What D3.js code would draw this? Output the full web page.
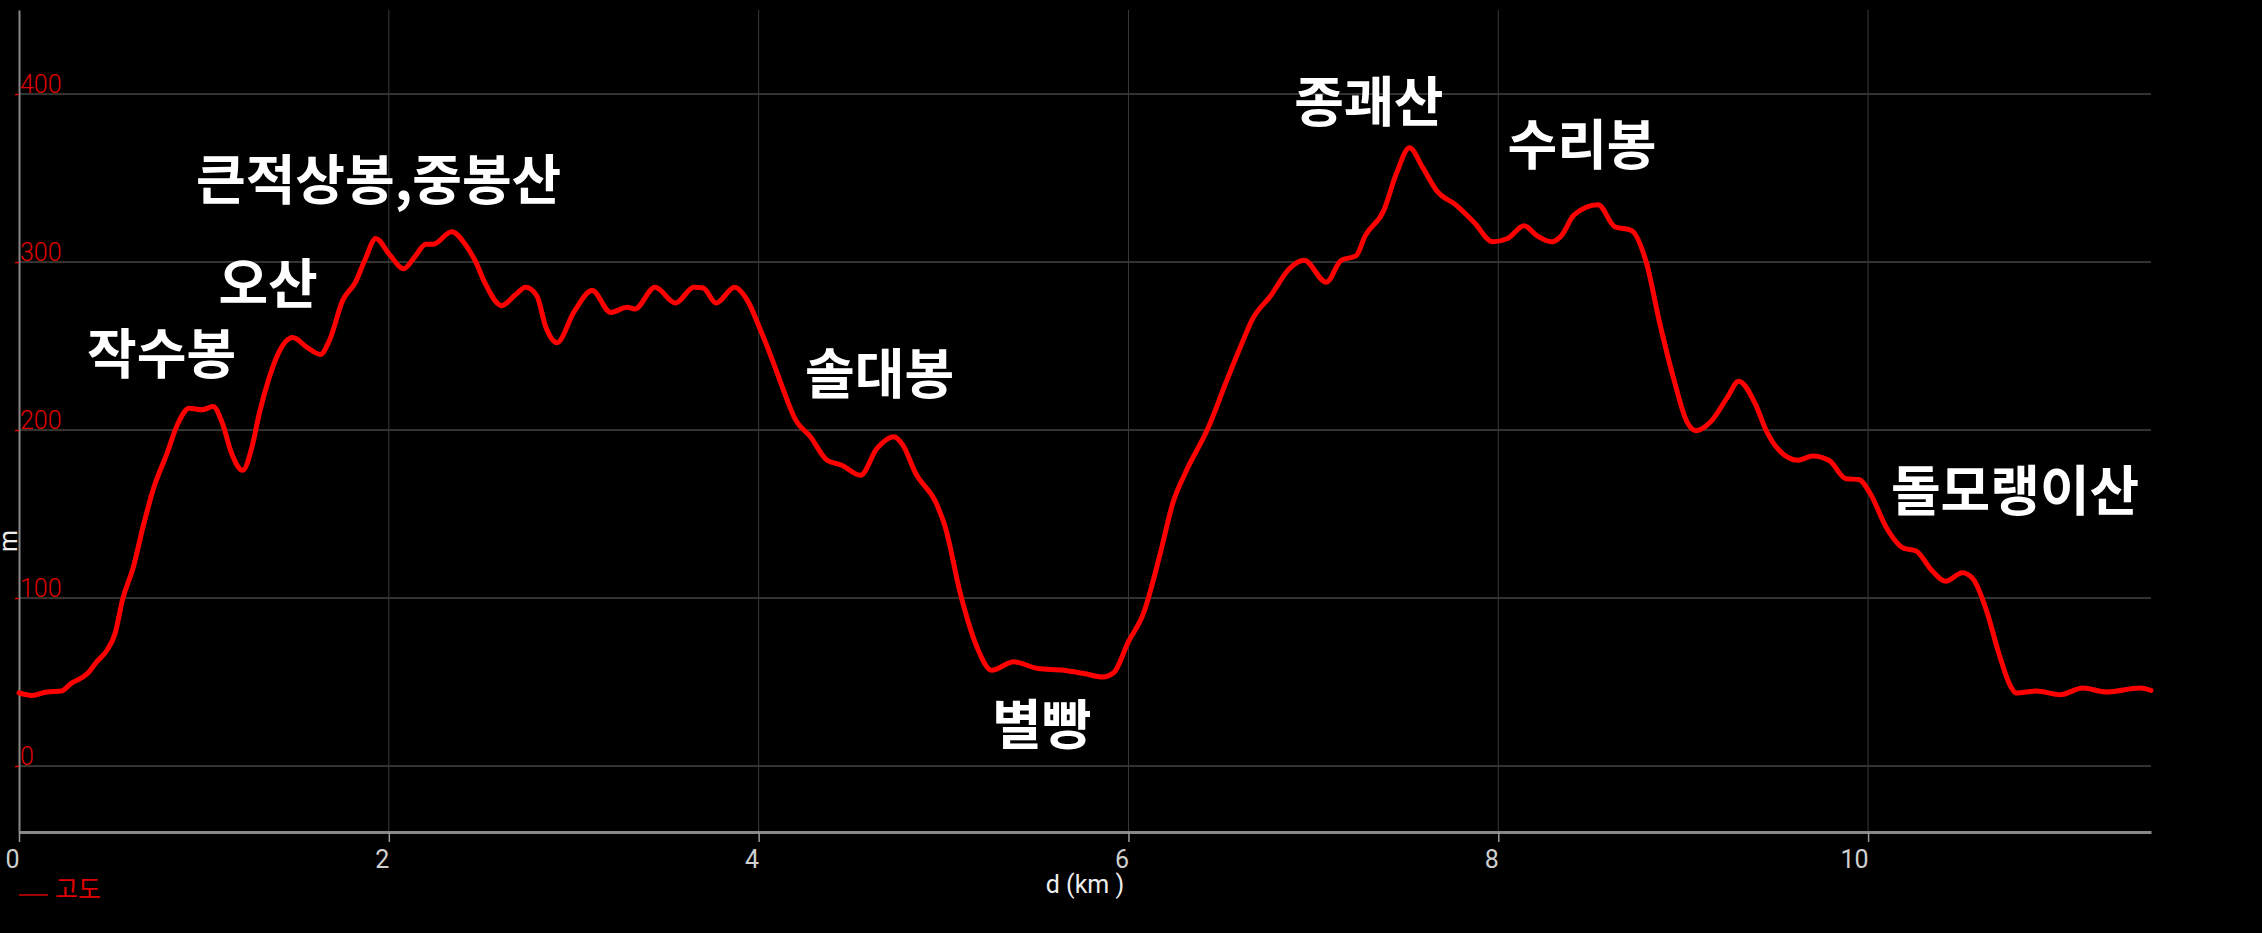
<!DOCTYPE html>
<html>
<head>
<meta charset="utf-8">
<script src="https://cdn.jsdelivr.net/npm/d3@7"></script>
<style>
  html, body { margin: 0; padding: 0; background: #000; overflow: hidden; }
  svg { display: block; }
</style>
</head>
<body>
<svg id="chart" width="2262" height="933"></svg>
<script>
// distance along route (km)
const distanceKm = [0.00,0.07,0.15,0.23,0.28,0.37,0.42,0.47,0.52,0.56,0.62,0.67,0.73,0.80,0.86,0.92,0.99,1.05,1.10,1.15,
  1.21,1.26,1.30,1.35,1.40,1.48,1.56,1.63,1.68,1.75,1.82,1.87,1.93,2.00,2.08,2.14,2.20,2.24,2.34,2.41,
  2.47,2.52,2.61,2.68,2.74,2.80,2.85,2.91,3.00,3.10,3.20,3.29,3.33,3.44,3.55,3.65,3.70,3.77,3.87,3.94,
  4.01,4.08,4.14,4.20,4.28,4.37,4.45,4.55,4.64,4.73,4.78,4.85,4.96,5.01,5.09,5.18,5.26,5.38,5.51,5.65,
  5.76,5.86,5.92,6.00,6.08,6.17,6.24,6.31,6.43,6.53,6.61,6.67,6.77,6.87,6.95,7.07,7.15,7.23,7.28,7.38,
  7.45,7.52,7.59,7.67,7.77,7.87,7.97,8.05,8.14,8.21,8.29,8.34,8.41,8.54,8.63,8.72,8.80,8.875,8.95,9.02,
  9.07,9.15,9.24,9.30,9.39,9.45,9.51,9.62,9.70,9.79,9.88,9.95,10.01,10.10,10.19,10.26,10.34,10.42,10.51,10.57,
  10.64,10.71,10.77,10.80,10.91,11.04,11.16,11.29,11.47,11.53];
// elevation (m) — series "고도"
const elevationM = [43.5,42,44,44.6,49,55,62,68,79,99,119,142,166,186,204,213,212,214,204,186,
  176,190,210,230,245,255,249,245,253.6,277,288,301,314,305,296,303,310.6,310.6,318,311,
  300,287.5,274,280,285,280,261,252,270,283,270,273,272,285,275.6,285,284.5,275.6,285,277,
  259.5,240,222,206,196,182,179,173,189,196,191,174,156.5,142,103,71,57,62,58,57,
  55,53,55.5,74,90.5,125.6,156.5,175,201,229,250.6,265.8,280,296,301,288,301,303.6,315.5,330.5,
  353,368,356.5,342,334,323.5,312,314,321.5,315.5,312,315.5,328,334,321,318.8,300,262.7,230,205,
  199.6,205,219.6,229,215.5,199.4,189,182,184.5,181.8,171,170.5,162.5,141.7,129.8,128,117,110,115,111,
  92.6,66,47.6,43.5,44.6,42.4,46.4,44,46.4,45];

const seriesName = "고도";
const xTicks = [0, 2, 4, 6, 8, 10];
const yTicks = [0, 100, 200, 300, 400];
const xTitle = "d (km )";
const yTitle = "m";

// peak annotations: name, km, elevation (data units)
const peakNames = ["작수봉", "오산", "큰적상봉,중봉산", "솔대봉", "별빵", "종괘산", "수리봉", "돌모랭이산"];
const peakKm    = [0.771, 1.347, 1.945, 4.654, 5.531, 7.30, 8.453, 10.795];
const peakM     = [247.3, 288.7, 350.8, 235.7, 26.4, 397.5, 371.8, 165.5];

(function () {
const svg = d3.select("#chart");
const pLeft = 19, pRight = 2151, pTop = 10, pBottom = 832;

const x = d3.scaleLinear().domain([0, 11.53]).range([pLeft, pRight]);
const y = d3.scaleLinear().domain([-39.3, 450]).range([pBottom, pTop]);

// horizontal gridlines
svg.append("g").selectAll("line").data(yTicks).join("line")
  .attr("x1", pLeft).attr("x2", pRight)
  .attr("y1", d => y(d)).attr("y2", d => y(d))
  .attr("stroke", "#333").attr("stroke-width", 2);

// vertical gridlines
svg.append("g").selectAll("line").data(xTicks.filter(d => d > 0)).join("line")
  .attr("x1", d => x(d)).attr("x2", d => x(d))
  .attr("y1", pTop).attr("y2", pBottom)
  .attr("stroke", "#3a3a3a").attr("stroke-width", 1);

// x axis
const xAxis = d3.axisBottom(x).tickValues(xTicks).tickSize(10).tickSizeOuter(0).tickFormat(d3.format("d"));
const gx = svg.append("g").attr("transform", `translate(0,${pBottom})`).call(xAxis);
gx.select(".domain").attr("stroke", "#888").attr("stroke-width", 3);
gx.selectAll(".tick line").attr("stroke", "#999").attr("stroke-width", 1.5);
gx.selectAll(".tick text")
  .attr("fill", "#cfcfcf").attr("font-family", "Roboto").attr("font-size", 25)
  .attr("text-anchor", "end").attr("dx", 0).attr("y", 36).attr("dy", 0);

// y axis
const yAxis = d3.axisLeft(y).tickValues(yTicks).tickSize(4).tickSizeOuter(0).tickFormat(d3.format("d"));
const gy = svg.append("g").attr("transform", `translate(${pLeft},0)`).call(yAxis);
gy.select(".domain").attr("stroke", "#888").attr("stroke-width", 2);
gy.selectAll(".tick line").attr("stroke", "#d00").attr("stroke-width", 1.5);
gy.selectAll(".tick text")
  .attr("fill", "#e00000").attr("font-family", "Roboto").attr("font-weight", 300)
  .attr("font-size", 25).attr("text-anchor", "start").attr("x", 1).attr("dy", -1.5);

// titles
svg.append("text").attr("x", 1085).attr("y", 893).attr("text-anchor", "middle")
  .attr("fill", "#eee").attr("font-family", "Roboto").attr("font-size", 25).text(xTitle);
svg.append("text").attr("transform", "translate(17,541) rotate(-90)").attr("text-anchor", "middle")
  .attr("fill", "#eee").attr("font-family", "Roboto").attr("font-size", 25).text(yTitle);

// line
const pts = distanceKm.map((d, i) => [d, elevationM[i]]);
svg.append("path").datum(pts)
  .attr("fill", "none").attr("stroke", "#ff0000").attr("stroke-width", 5)
  .attr("stroke-linejoin", "round").attr("stroke-linecap", "round")
  .attr("d", d3.line().x(d => x(d[0])).y(d => y(d[1])).curve(d3.curveMonotoneX));

// annotations
svg.append("g").selectAll("text").data(peakNames).join("text")
  .attr("x", (d, i) => x(peakKm[i])).attr("y", (d, i) => y(peakM[i]))
  .attr("text-anchor", "middle").attr("dominant-baseline", "central")
  .attr("fill", "#fff").attr("font-family", "'Noto Sans CJK KR'").attr("font-weight", 700)
  .attr("font-size", 54).text(d => d);

// legend
const lg = svg.append("g");
lg.append("line").attr("x1", 19).attr("x2", 48).attr("y1", 895).attr("y2", 895)
  .attr("stroke", "#a00000").attr("stroke-width", 2);
lg.append("text").attr("x", 55).attr("y", 898).attr("fill", "#e00000")
  .attr("font-family", "'Noto Sans CJK KR'").attr("font-size", 25).text(seriesName);
})();
</script>
</body>
</html>
